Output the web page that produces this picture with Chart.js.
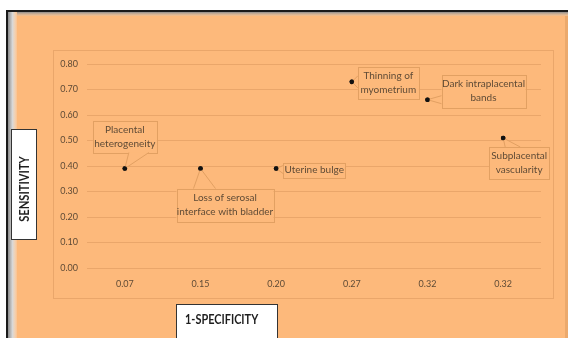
<!DOCTYPE html>
<html>
<head>
<meta charset="utf-8">
<script src="https://cdn.jsdelivr.net/npm/chart.js@4/dist/chart.umd.min.js"></script>
<style>
  html, body { margin: 0; padding: 0; background: #fff; }
  #wrap { width: 568px; height: 338px; }
</style>
</head>
<body>
<div id="wrap"><canvas id="rocChart" width="568" height="338"></canvas></div>
<script>
// 1-specificity categories and sensitivity of each MRI finding
const specLabels = ["0.07", "0.15", "0.20", "0.27", "0.32", "0.32"];
const sensitivity = [0.39, 0.39, 0.39, 0.73, 0.66, 0.51];
const findings = [
  ["Placental", "heterogeneity"],
  ["Loss of serosal", "interface with bladder"],
  ["Uterine bulge"],
  ["Thinning of", "myometrium"],
  ["Dark intraplacental", "bands"],
  ["Subplacental", "vascularity"]
];
const yMin = 0, yMax = 0.8, yStep = 0.1;

const ORANGE = "#fdb97b";
const GRID = "#eaa66a";
const TEXT = "#5f4b36";
const FONT = "Lato, 'Open Sans', sans-serif";

// callout box placement relative to its point: box centre offset, size, wedge base
const callouts = [
  { dx: 0, dy: -32, w: 64, h: 32, side: "bottom", a: 4, b: 24 },
  { dx: 24.5, dy: 36.5, w: 97, h: 33, side: "top", a: -7, b: 15 },
  { dx: 38, dy: 1.5, w: 62, h: 15, side: "left", a: -3, b: 5 },
  { dx: 36.5, dy: 1, w: 61, h: 32, side: "left", a: -6, b: 6 },
  { dx: 56, dy: -8.5, w: 84, h: 33, side: "left", a: -4, b: 4 },
  { dx: 16, dy: 25, w: 60, h: 32, side: "top", a: 2, b: 17 }
];

const framePlugin = {
  id: "frame",
  beforeDraw(chart) {
    const c = chart.ctx;
    c.save();
    c.fillStyle = "#fff";
    c.fillRect(0, 0, chart.width, chart.height);
    // orange panel
    c.fillStyle = ORANGE;
    c.fillRect(8, 12, 560, 326);
    // dark top/left border with grey fade
    c.fillStyle = "#1a1a1a";
    c.fillRect(6, 10, 562, 2);
    c.fillRect(6, 10, 2, 328);
    const gl = c.createLinearGradient(8, 0, 17, 0);
    gl.addColorStop(0, "#8c8c8c");
    gl.addColorStop(0.5, "#d8d8d8");
    gl.addColorStop(1, "rgba(245,235,225,0.2)");
    c.fillStyle = gl;
    c.fillRect(8, 12, 9, 326);
    const gt = c.createLinearGradient(0, 12, 0, 16);
    gt.addColorStop(0, "#8c8c8c");
    gt.addColorStop(1, "rgba(220,200,180,0.3)");
    c.fillStyle = gt;
    c.fillRect(17, 12, 551, 4);
    c.fillStyle = "rgba(200,140,80,0.35)";
    c.fillRect(565, 16, 3, 322);
    // inner plot frame
    c.strokeStyle = GRID;
    c.lineWidth = 1;
    c.strokeRect(53.5, 50.5, 500, 248);
    c.restore();
  },
  afterDraw(chart) {
    const c = chart.ctx;
    const meta = chart.getDatasetMeta(0);
    c.save();
    c.font = "10px " + FONT;
    c.textAlign = "center";
    c.textBaseline = "middle";
    meta.data.forEach((pt, i) => {
      const o = callouts[i];
      const cx = pt.x + o.dx, cy = pt.y + o.dy;
      const x0 = cx - o.w / 2, y0 = cy - o.h / 2;
      c.fillStyle = ORANGE;
      c.strokeStyle = "#e2a062";
      c.lineWidth = 1;
      c.fillRect(x0, y0, o.w, o.h);
      c.strokeRect(Math.round(x0) + 0.5, Math.round(y0) + 0.5, Math.round(o.w), Math.round(o.h));
      let p1, p2;
      if (o.side === "bottom") { p1 = [pt.x + o.a, y0 + o.h]; p2 = [pt.x + o.b, y0 + o.h]; }
      else if (o.side === "top") { p1 = [pt.x + o.a, y0]; p2 = [pt.x + o.b, y0]; }
      else { p1 = [x0, pt.y + o.a]; p2 = [x0, pt.y + o.b]; }
      c.beginPath();
      c.moveTo(p1[0], p1[1]);
      c.lineTo(pt.x, pt.y);
      c.lineTo(p2[0], p2[1]);
      c.closePath();
      c.fill();
      c.beginPath();
      c.moveTo(p1[0], p1[1]);
      c.lineTo(pt.x, pt.y);
      c.lineTo(p2[0], p2[1]);
      c.stroke();
      c.fillStyle = TEXT;
      const lines = findings[i];
      lines.forEach((t, k) => {
        c.fillText(t, cx, cy + (k - (lines.length - 1) / 2) * 14);
      });
      // redraw the point on top
      c.fillStyle = "#111";
      c.beginPath();
      c.arc(pt.x, pt.y, 2.3, 0, Math.PI * 2);
      c.fill();
    });

    // axis title boxes
    c.fillStyle = "#fff";
    c.fillRect(11, 129, 26, 111);
    c.strokeStyle = "#333";
    c.lineWidth = 1;
    c.strokeRect(11.5, 129.5, 25, 110);
    c.fillStyle = "#1e1e1e";
    c.font = "bold 13px " + FONT;
    c.save();
    c.translate(24.5, 189);
    c.rotate(-Math.PI / 2);
    c.scale(0.86, 1);
    c.fillText("SENSITIVITY", 0, 0);
    c.restore();

    c.fillStyle = "#fff";
    c.fillRect(176, 304, 102, 40);
    c.strokeStyle = "#333";
    c.strokeRect(176.5, 304.5, 101, 40);
    c.fillStyle = "#1e1e1e";
    c.textAlign = "left";
    c.save();
    c.translate(185, 320);
    c.scale(0.84, 1);
    c.fillText("1-SPECIFICITY", 0, 0);
    c.restore();
    c.restore();
  }
};

new Chart(document.getElementById("rocChart"), {
  type: "line",
  data: {
    labels: specLabels,
    datasets: [{
      data: sensitivity,
      showLine: false,
      pointRadius: 2.3,
      pointBackgroundColor: "#111",
      pointBorderColor: "#111",
      pointBorderWidth: 0
    }]
  },
  options: {
    responsive: false,
    animation: false,
    events: [],
    layout: { padding: { left: 53, right: 27, top: 64, bottom: 40 } },
    plugins: { legend: { display: false }, tooltip: { enabled: false } },
    scales: {
      x: {
        offset: true,
        afterFit: s => { s.height = 30; },
        grid: { display: false, drawTicks: false },
        border: { display: false },
        ticks: { color: TEXT, font: { family: FONT, size: 9 }, padding: 11 }
      },
      y: {
        min: yMin,
        max: yMax,
        afterFit: s => { s.width = 34; },
        grid: { color: GRID, drawTicks: false },
        border: { display: false },
        ticks: {
          stepSize: yStep,
          color: TEXT,
          font: { family: FONT, size: 9 },
          padding: 9,
          callback: v => v.toFixed(2)
        }
      }
    }
  },
  plugins: [framePlugin]
});
</script>
</body>
</html>
